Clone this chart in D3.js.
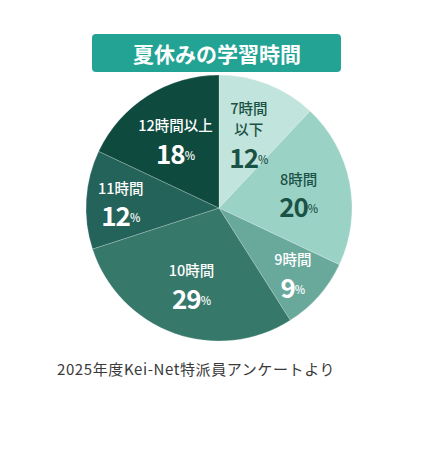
<!DOCTYPE html>
<html>
<head>
<meta charset="utf-8">
<script src="https://cdn.jsdelivr.net/npm/d3@7"></script>
<style>
  body { margin: 0; background: #fff; }
  text { font-family: "Noto Sans CJK JP", "Noto Sans", sans-serif; }
</style>
</head>
<body>
<div id="chart"></div>
<script>
var title = "夏休みの学習時間"
var source = "2025年度Kei-Net特派員アンケートより"
var categories = [["7時間", "以下"], ["8時間"], ["9時間"], ["10時間"], ["11時間"], ["12時間以上"]]
var percents = [12, 20, 9, 29, 12, 18]
var colors = ["#c1e4dc", "#9bd2c6", "#69a99c", "#36796b", "#24635a", "#0e4a3e"]

var width = 440, height = 457
var cx = 219, cy = 208, radius = 133

var svg = d3.select("#chart")
  .append("svg")
    .attr("width", width)
    .attr("height", height)

// title box
svg.append("rect")
  .attr("x", 92).attr("y", 34)
  .attr("width", 249).attr("height", 38)
  .attr("rx", 4)
  .style("fill", "#22a394")
svg.append("text")
  .attr("x", 217).attr("y", 53)
  .attr("text-anchor", "middle")
  .attr("dominant-baseline", "central")
  .style("font-size", "21px")
  .style("font-weight", "bold")
  .style("fill", "#fff")
  .text(title)

var data = categories.map(function(c, i) { return {label: c, value: percents[i], color: colors[i]} })

var pie = d3.pie().sort(null).value(function(d) { return d.value })
var arc = d3.arc().innerRadius(0).outerRadius(radius)

var g = svg.append("g")
  .attr("transform", "translate(" + cx + "," + cy + ")")

var arcs = pie(data)

g.selectAll("path")
  .data(arcs)
  .enter()
  .append("path")
    .attr("d", arc)
    .style("fill", function(d) { return d.data.color })
    .style("stroke", "rgba(255,255,255,0.35)")
    .style("stroke-width", 0.6)

// label radius: narrow wedges near the sides get pushed out a bit
function labelR(d) {
  var mid = (d.startAngle + d.endAngle) / 2
  var side = Math.abs(Math.sin(mid))
  var narrow = (d.endAngle - d.startAngle) < 0.8
  if (narrow && side > 0.6) return radius * 0.74
  return radius * 0.61
}

var labels = g.selectAll("g.lbl")
  .data(arcs)
  .enter()
  .append("g")
    .attr("class", "lbl")
    .attr("transform", function(d) {
      var r = labelR(d)
      var c = d3.arc().innerRadius(r).outerRadius(r).centroid(d)
      return "translate(" + c[0] + "," + c[1] + ")"
    })

labels.each(function(d) {
  var sel = d3.select(this)
  var lines = d.data.label
  var dark = d.data.color === colors[0] || d.data.color === colors[1]
  var fill = dark ? "#1b5246" : "#fff"
  var lineH = 21
  var total = lines.length * lineH + 28
  var y0 = -total / 2 + 10
  lines.forEach(function(t, k) {
    sel.append("text")
      .attr("y", y0 + k * lineH)
      .attr("text-anchor", "middle")
      .attr("dominant-baseline", "central")
      .style("font-size", "14.5px")
      .style("font-weight", 500)
      .style("fill", fill)
      .text(t)
  })
  var num = sel.append("text")
    .attr("y", y0 + lines.length * lineH + 6)
    .attr("text-anchor", "middle")
    .attr("dominant-baseline", "central")
    .style("fill", fill)
  num.append("tspan")
    .style("font-size", "26px")
    .style("font-weight", "bold")
    .style("letter-spacing", "-1px")
    .text(d.data.value)
  num.append("tspan")
    .style("font-size", "11px")
    .style("font-weight", 500)
    .attr("dy", 3)
    .text("%")
})

svg.append("text")
  .attr("x", 57).attr("y", 375)
  .style("font-size", "15px")
  .style("letter-spacing", "0.6px")
  .style("fill", "#3a3a3a")
  .text(source)
</script>
</body>
</html>
